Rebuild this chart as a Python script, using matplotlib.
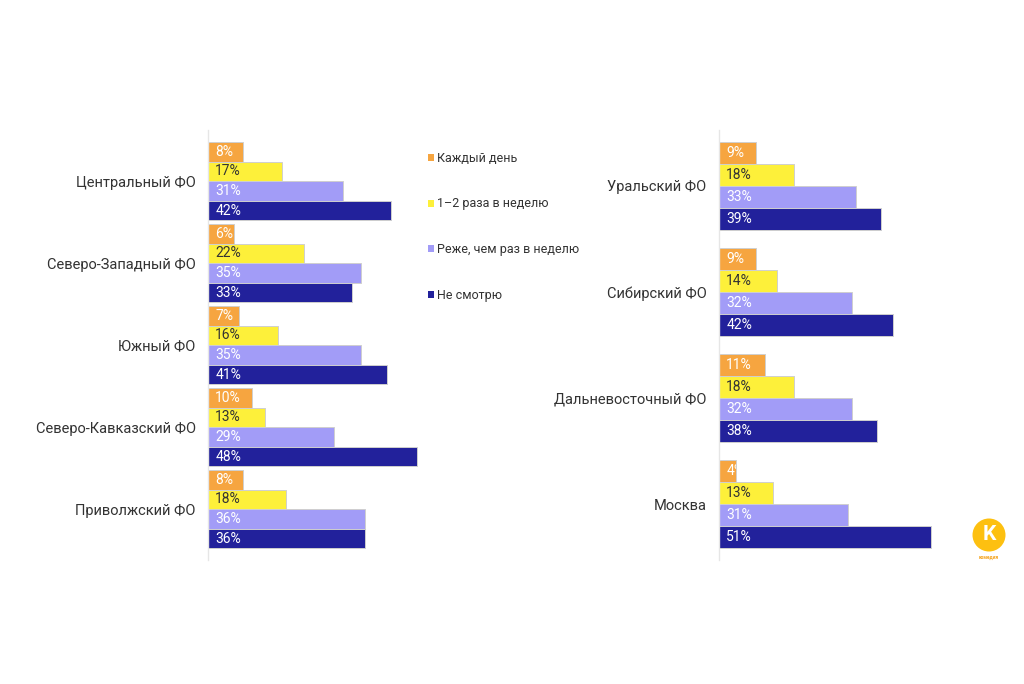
import matplotlib.pyplot as plt
from matplotlib.patches import Circle, Rectangle

# данные
series = ["Каждый день", "1–2 раза в неделю", "Реже, чем раз в неделю", "Не смотрю"]
colors = ["#F6A540", "#FDF03A", "#A29CF7", "#22219B"]
text_colors = ["white", "#333333", "white", "white"]

left_regions = ["Центральный ФО", "Северо-Западный ФО", "Южный ФО",
                "Северо-Кавказский ФО", "Приволжский ФО"]
left_values = [
    [8, 17, 31, 42],
    [6, 22, 35, 33],
    [7, 16, 35, 41],
    [10, 13, 29, 48],
    [8, 18, 36, 36],
]

right_regions = ["Уральский ФО", "Сибирский ФО", "Дальневосточный ФО", "Москва"]
right_values = [
    [9, 18, 33, 39],
    [9, 14, 32, 42],
    [11, 18, 32, 38],
    [4, 13, 31, 51],
]

plt.rcParams["font.family"] = ["Roboto", "DejaVu Sans"]

W, H = 1024, 684
fig = plt.figure(figsize=(W / 100, H / 100), dpi=100)
fig.patch.set_facecolor("white")


def panel(x0, width, px_per_pct, bar_px, step_px, regions, values):
    ax_top, ax_bot = 130, 560
    ax = fig.add_axes([x0 / W, 1 - ax_bot / H, width / W, (ax_bot - ax_top) / H])
    step = step_px / bar_px
    top = -0.5 - 12 / bar_px
    ax.set_ylim(top + (ax_bot - ax_top) / bar_px, top)
    ax.set_xlim(0, width / px_per_pct)

    centers = []
    for i, row in enumerate(values):
        for j, v in enumerate(row):
            y = i * step + j
            bar = ax.barh(y, v, height=1.0, color=colors[j],
                          edgecolor="#cfcfcf", linewidth=0.7)[0]
            t = ax.annotate(f"{v}%", (0, y), xytext=(5.2, 0),
                            textcoords="offset points", ha="left", va="center",
                            fontsize=10, color=text_colors[j])
            t.set_clip_path(bar)
        centers.append(i * step + 1.5)

    ax.set_yticks(centers)
    ax.set_yticklabels(regions, fontsize=10.5, color="#333333")
    ax.tick_params(axis="y", length=0, pad=9)
    ax.set_xticks([])
    for s in ["top", "right", "bottom"]:
        ax.spines[s].set_visible(False)
    ax.spines["left"].set_color("#e6e6e6")
    ax.spines["left"].set_linewidth(1)
    return ax


panel(208, 230, 4.36, 19.6, 82, left_regions, left_values)
panel(719, 230, 4.15, 22, 106, right_regions, right_values)

# легенда
legend_y = [158, 204, 249, 295]
for k, name in enumerate(series):
    fig.patches.append(Rectangle((428 / W, 1 - (legend_y[k] + 3) / H), 6 / W, 7 / H,
                                 transform=fig.transFigure, facecolor=colors[k],
                                 edgecolor="none"))
    fig.text(437 / W, 1 - legend_y[k] / H, name, fontsize=9, color="#333333",
             ha="left", va="center")

# логотип
fig.patches.append(Circle((9.89, (H - 535) / 100), 0.165, transform=fig.dpi_scale_trans,
                          facecolor="#FDC010", edgecolor="none"))
fig.text(989 / W, 1 - 535 / H, "K", fontsize=15, fontweight="bold", color="white",
         ha="center", va="center")
fig.text(989 / W, 1 - 557 / H, "комедия", fontsize=3.5, fontweight="bold",
         color="#F5A623", ha="center", va="center")

fig.savefig("out.png", dpi=100, facecolor="white")
